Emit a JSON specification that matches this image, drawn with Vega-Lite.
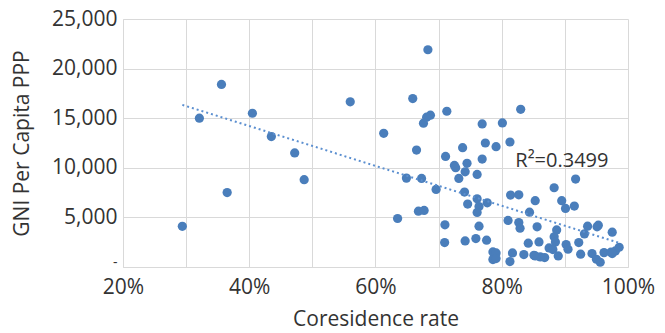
{
  "$schema": "https://vega.github.io/schema/vega-lite/v6.json",
  "autosize": {"type": "none"},
  "padding": {"left": 123, "top": 19, "right": 37, "bottom": 66},
  "width": 505,
  "height": 248,
  "background": "white",
  "config": {
    "view": {"stroke": null},
    "font": "Open Sans",
    "axis": {
      "labelFont": "Open Sans", "titleFont": "Open Sans",
      "labelColor": "#333333", "titleColor": "#333333",
      "labelFontSize": 21, "titleFontSize": 21, "titleFontWeight": "normal",
      "gridColor": "#d9d9d9", "gridWidth": 1, "domainColor": "#d9d9d9",
      "ticks": false
    }
  },
  "data": {"values": [
    {"r": 0.294, "g": 4100}, {"r": 0.321, "g": 15000}, {"r": 0.356, "g": 18400}, {"r": 0.365, "g": 7500},
    {"r": 0.405, "g": 15500}, {"r": 0.435, "g": 13150}, {"r": 0.472, "g": 11500}, {"r": 0.487, "g": 8800},
    {"r": 0.683, "g": 21900}, {"r": 0.560, "g": 16650}, {"r": 0.659, "g": 16980}, {"r": 0.713, "g": 15700},
    {"r": 0.687, "g": 15300}, {"r": 0.681, "g": 15100}, {"r": 0.676, "g": 14500}, {"r": 0.830, "g": 15900},
    {"r": 0.769, "g": 14420}, {"r": 0.801, "g": 14520}, {"r": 0.613, "g": 13480}, {"r": 0.774, "g": 12500},
    {"r": 0.791, "g": 12130}, {"r": 0.813, "g": 12600}, {"r": 0.738, "g": 12030}, {"r": 0.665, "g": 11790},
    {"r": 0.711, "g": 11150}, {"r": 0.769, "g": 10880}, {"r": 0.725, "g": 10240}, {"r": 0.727, "g": 10010},
    {"r": 0.745, "g": 10450}, {"r": 0.742, "g": 9600}, {"r": 0.761, "g": 9335}, {"r": 0.732, "g": 8930},
    {"r": 0.649, "g": 8960}, {"r": 0.673, "g": 8930}, {"r": 0.917, "g": 8860}, {"r": 0.883, "g": 7990},
    {"r": 0.696, "g": 7820}, {"r": 0.741, "g": 7550}, {"r": 0.814, "g": 7250}, {"r": 0.827, "g": 7280},
    {"r": 0.761, "g": 6880}, {"r": 0.777, "g": 6470}, {"r": 0.746, "g": 6340}, {"r": 0.764, "g": 6100},
    {"r": 0.853, "g": 6680}, {"r": 0.895, "g": 6680}, {"r": 0.901, "g": 5900}, {"r": 0.915, "g": 6140},
    {"r": 0.761, "g": 5500}, {"r": 0.844, "g": 5530}, {"r": 0.668, "g": 5630}, {"r": 0.677, "g": 5700},
    {"r": 0.635, "g": 4890}, {"r": 0.810, "g": 4690}, {"r": 0.827, "g": 4480}, {"r": 0.829, "g": 3910},
    {"r": 0.856, "g": 4050}, {"r": 0.887, "g": 3740}, {"r": 0.710, "g": 4250}, {"r": 0.764, "g": 4110},
    {"r": 0.936, "g": 4110}, {"r": 0.953, "g": 4220}, {"r": 0.951, "g": 4050}, {"r": 0.975, "g": 3510},
    {"r": 0.931, "g": 3340}, {"r": 0.883, "g": 3040}, {"r": 0.7095, "g": 2460}, {"r": 0.742, "g": 2630},
    {"r": 0.759, "g": 2870}, {"r": 0.776, "g": 2700}, {"r": 0.842, "g": 2400}, {"r": 0.859, "g": 2530},
    {"r": 0.885, "g": 2530}, {"r": 0.902, "g": 2260}, {"r": 0.922, "g": 2460}, {"r": 0.875, "g": 1920},
    {"r": 0.881, "g": 1760}, {"r": 0.905, "g": 1790}, {"r": 0.786, "g": 1520}, {"r": 0.791, "g": 1420},
    {"r": 0.817, "g": 1420}, {"r": 0.835, "g": 1250}, {"r": 0.853, "g": 1120}, {"r": 0.861, "g": 1020},
    {"r": 0.868, "g": 950}, {"r": 0.8895, "g": 1120}, {"r": 0.925, "g": 1290}, {"r": 0.943, "g": 1350},
    {"r": 0.962, "g": 1450}, {"r": 0.973, "g": 1490}, {"r": 0.980, "g": 1620}, {"r": 0.986, "g": 1990},
    {"r": 0.975, "g": 1350}, {"r": 0.786, "g": 750}, {"r": 0.791, "g": 850}, {"r": 0.813, "g": 550},
    {"r": 0.950, "g": 780}, {"r": 0.956, "g": 480}, {"r": 0.851, "g": 1180}
  ]},
  "layer": [
    {
      "mark": {"type": "point", "filled": true, "shape": "circle", "size": 85, "color": "#4a7ebb", "opacity": 1},
      "encoding": {
        "x": {
          "field": "r", "type": "quantitative",
          "scale": {"domain": [0.2, 1.0], "nice": false, "zero": false},
          "axis": {
            "values": [0.2, 0.3, 0.4, 0.5, 0.6, 0.7, 0.8, 0.9, 1.0],
            "labelExpr": "round(datum.value * 100) % 20 == 0 ? format(datum.value, '.0%') : ''",
            "labelPadding": 9, "labelFlush": false, "labelOverlap": false,
            "title": "Coresidence rate", "titlePadding": 11
          }
        },
        "y": {
          "field": "g", "type": "quantitative",
          "scale": {"domain": [0, 25000], "nice": false},
          "axis": {
            "values": [0, 5000, 10000, 15000, 20000, 25000],
            "labelExpr": "datum.value == 0 ? '-' : format(datum.value, ',')",
            "labelFontSize": {"condition": {"test": "datum.value == 0", "value": 14}, "value": 21},
            "labelOffset": {"condition": {"test": "datum.value == 0", "value": -5}, "value": 0},
            "labelPadding": 6, "labelFlush": false, "labelOverlap": false,
            "title": "GNI Per Capita PPP", "titlePadding": 19
          }
        }
      }
    },
    {
      "transform": [{"regression": "g", "on": "r"}],
      "mark": {"type": "line", "color": "#5b8fd0", "strokeWidth": 2, "strokeDash": [2, 3]},
      "encoding": {
        "x": {"field": "r", "type": "quantitative"},
        "y": {"field": "g", "type": "quantitative"}
      }
    },
    {
      "data": {"values": [{"label": "R²=0.3499", "r": 0.8215, "g": 10680}]},
      "mark": {"type": "text", "align": "left", "baseline": "middle", "font": "Open Sans", "fontSize": 20, "color": "#333333"},
      "encoding": {
        "x": {"field": "r", "type": "quantitative"},
        "y": {"field": "g", "type": "quantitative"},
        "text": {"field": "label"}
      }
    }
  ]
}
